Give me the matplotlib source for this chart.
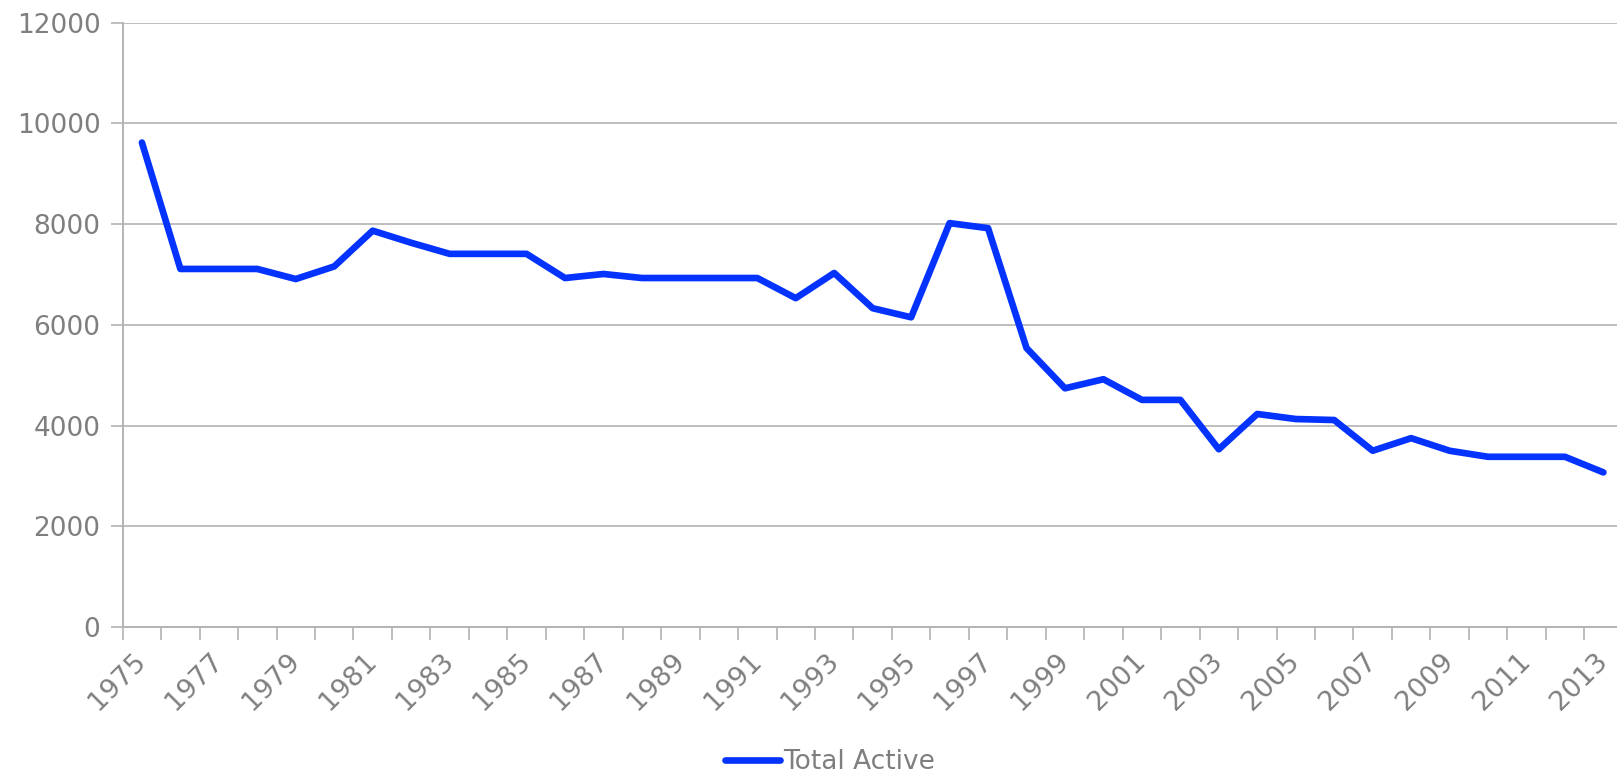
import numpy as np
import matplotlib
matplotlib.use("Agg")
import matplotlib.pyplot as plt
from matplotlib.transforms import ScaledTranslation

# Data
years = list(range(1975, 2014))
total_active = [9620, 7110, 7110, 7110, 6910, 7160, 7870, 7630, 7410, 7410,
                7410, 6930, 7010, 6930, 6930, 6930, 6930, 6530, 7030, 6330,
                6150, 8020, 7920, 5540, 4740, 4920, 4510, 4510, 3530, 4230,
                4130, 4110, 3500, 3750, 3500, 3380, 3380, 3380, 3070]
y_ticks = [0, 2000, 4000, 6000, 8000, 10000, 12000]

grid_col = "#B3B3B3"
text_col = "#7F7F7F"
line_col = "#0433FF"

W, H = 1617, 775
fig = plt.figure(figsize=(W / 100, H / 100), dpi=100)
# plot area runs past the right edge like in the original
left, right_px, top, bottom = 122.7, 122.7 + 39 * 38.46, 22.7, 627
ax = fig.add_axes([left / W, 1 - bottom / H, (right_px - left) / W, (bottom - top) / H])

x = np.arange(len(years))
line, = ax.plot(x, total_active, color=line_col, lw=4.8,
                solid_capstyle="round", solid_joinstyle="round", zorder=3)

ax.set_xlim(-0.5, len(years) - 0.5)
ax.set_ylim(0, 12000)
ax.set_yticks(y_ticks)
ax.set_yticklabels([str(v) for v in y_ticks])
ax.yaxis.grid(True, color=grid_col, lw=1.2)
ax.set_axisbelow(True)

# category ticks between years, labels on odd years
ax.set_xticks(x[::2])
ax.set_xticklabels([str(y) for y in years[::2]], rotation=45, ha="right",
                   va="top", rotation_mode="anchor")
ax.set_xticks(np.arange(-0.5, len(years)), minor=True)
ax.tick_params(axis="x", which="major", length=0, pad=15, labelsize=19.5,
               labelcolor=text_col)
ax.tick_params(axis="x", which="minor", length=9, width=1.2, color=grid_col)
ax.tick_params(axis="y", length=9, width=1.2, color=grid_col, pad=7,
               labelsize=19, labelcolor=text_col)
shift = ScaledTranslation(-9 / 100, 0, fig.dpi_scale_trans)
for lab in ax.get_xticklabels():
    lab.set_transform(lab.get_transform() + shift)

for s in ["top", "right"]:
    ax.spines[s].set_visible(False)
for s in ["left", "bottom"]:
    ax.spines[s].set_color(grid_col)
    ax.spines[s].set_linewidth(1.4)

leg = fig.legend([line], ["Total Active"], loc="center",
                 bbox_to_anchor=(830 / W, 1 - 762 / H), frameon=False,
                 fontsize=19, handlelength=2.1, handletextpad=0.12,
                 labelcolor=text_col)

fig.savefig("out.png", dpi=100)
